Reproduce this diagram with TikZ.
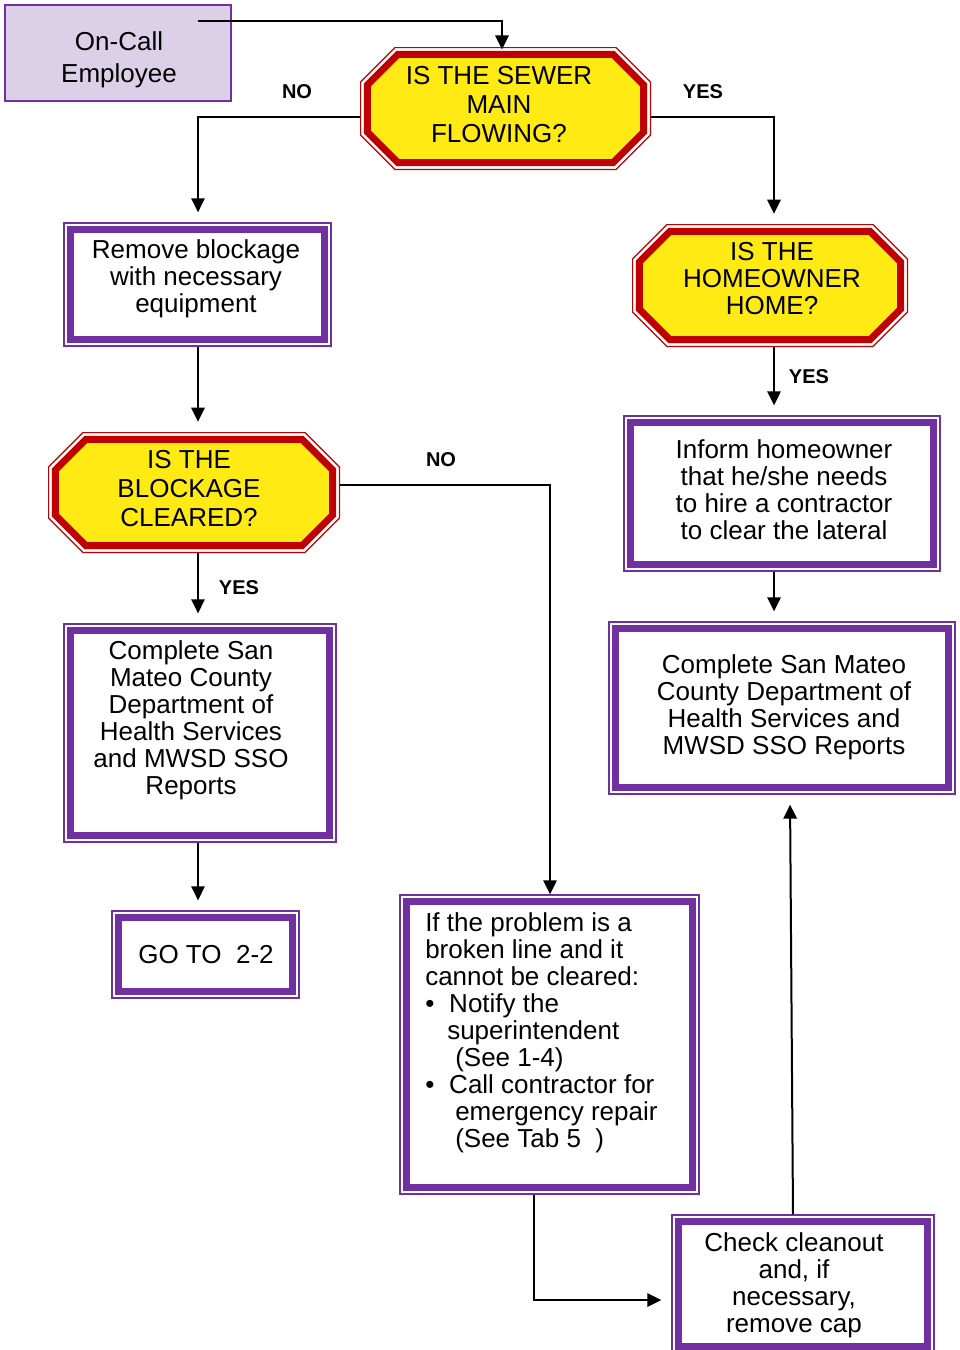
\documentclass[tikz,border=0pt]{standalone}
\usepackage{fontspec}
\setmainfont{Liberation Sans}
\usetikzlibrary{arrows.meta,calc}

\definecolor{mpurple}{RGB}{112,48,160}
\definecolor{mred}{RGB}{192,0,0}
\definecolor{myellow}{RGB}{255,234,20}
\definecolor{lav}{RGB}{220,208,232}

\tikzset{
  % octagon outline inset by #1 with corner cut #2, drawn inside a path picture
  octo/.style 2 args={insert path={
    ([xshift={#2+0.414*#1}, yshift=-#1]path picture bounding box.north west) --
    ([xshift={-#2-0.414*#1}, yshift=-#1]path picture bounding box.north east) --
    ([xshift=-#1, yshift={-#2-0.414*#1}]path picture bounding box.north east) --
    ([xshift=-#1, yshift={#2+0.414*#1}]path picture bounding box.south east) --
    ([xshift={-#2-0.414*#1}, yshift=#1]path picture bounding box.south east) --
    ([xshift={#2+0.414*#1}, yshift=#1]path picture bounding box.south west) --
    ([xshift=#1, yshift={#2+0.414*#1}]path picture bounding box.south west) --
    ([xshift=#1, yshift={-#2-0.414*#1}]path picture bounding box.north west) -- cycle}},
  decision/.style 2 args={rectangle, inner sep=0pt, minimum width=#1, minimum height=#2,
    path picture={
      \fill[white, octo={0pt}{26pt}];
      \draw[mred, line width=0.9pt, octo={0.45pt}{26pt}];
      \fill[myellow, octo={5.6pt}{26pt}];
      \draw[mred, line width=5.25pt, octo={5.6pt}{26pt}];
    }},
  box/.style 2 args={rectangle, inner sep=0pt, minimum width=#1, minimum height=#2,
    draw=mpurple, line width=1pt, fill=white,
    path picture={
      \draw[mpurple, line width=5.25pt]
        ([shift={(4.9pt,4.9pt)}]path picture bounding box.south west) rectangle
        ([shift={(-4.9pt,-4.9pt)}]path picture bounding box.north east);
    }},
  start/.style 2 args={rectangle, inner sep=0pt, minimum width=#1, minimum height=#2,
    draw=mpurple, line width=1.5pt, fill=lav},
  txt/.style={align=center, inner sep=0pt, font=\fontsize{19.5}{20.25}\selectfont},
  qtxt/.style={align=center, inner sep=0pt, font=\fontsize{19.5}{21.75}\selectfont},
  lbl/.style={inner sep=0pt, font=\fontsize{15}{18}\selectfont\bfseries},
  arr/.style={line width=1.5pt, -{Triangle[length=10.5pt,width=10pt]}},
  gap/.style={shorten >=7.5pt}
}

\begin{document}
\begin{tikzpicture}[x=0.75pt, y=-0.75pt]
\useasboundingbox (0,0) rectangle (960,1350);

% shapes
\node[start={169.5pt}{72pt}] (oncall) at (118,53) {};
\node[decision={218.25pt}{92.25pt}] (sewer) at (505.5,108.5) {};
\node[box={200.25pt}{92.25pt}] (remove) at (197.5,284.5) {};
\node[decision={219pt}{90.75pt}] (cleared) at (194,492.5) {};
\node[box={204pt}{163.5pt}] (reportsL) at (200,733) {};
\node[box={140.25pt}{65.25pt}] (goto) at (205.5,954.5) {};
\node[decision={207pt}{92.25pt}] (home) at (770,285.5) {};
\node[box={237pt}{116.25pt}] (inform) at (782,493.5) {};
\node[box={259.5pt}{129pt}] (reportsR) at (782,708) {};
\node[box={224.25pt}{224.25pt}] (broken) at (549.5,1044.5) {};
\node[box={196.5pt}{103.5pt}] (cleanout) at (803,1284) {};

% texts
\node[txt, font=\fontsize{19.5}{24}\selectfont] (t-oncall) at (119,60) {On-Call\\Employee};
\node[qtxt] (t-sewer) at (499,105) {IS THE SEWER\\MAIN\\FLOWING?};
\node[txt] (t-remove) at (196,279) {Remove blockage\\with necessary\\equipment};
\node[qtxt] (t-cleared) at (189,489) {IS THE\\BLOCKAGE\\CLEARED?};
\node[txt] (t-reportsL) at (191,720) {Complete San\\Mateo County\\Department of\\Health Services\\and MWSD SSO\\Reports};
\node[txt] (t-goto) at (206,955) {GO TO\ \ 2-2};
\node[txt] (t-home) at (772,279) {IS THE\\HOMEOWNER\\HOME?};
\node[txt] (t-inform) at (784,490) {Inform homeowner\\that he/she needs\\to hire a contractor\\to clear the lateral};
\node[txt] (t-reportsR) at (784,707) {Complete San Mateo\\County Department of\\Health Services and\\MWSD SSO Reports};
\node[txt, align=left, anchor=west] (t-broken) at (425,1032.5)
  {If the problem is a\\broken line and it\\cannot be cleared:\\
   \makebox[18pt][l]{•}Notify the\\
   \hspace*{16.5pt}superintendent\\
   \hspace*{22.5pt}(See 1-4)\\
   \makebox[18pt][l]{•}Call contractor for\\
   \hspace*{22.5pt}emergency repair\\
   \hspace*{22.5pt}(See Tab 5\ \ )};
\node[txt] (t-cleanout) at (794,1285) {Check cleanout\\and, if\\necessary,\\remove cap};

% branch labels
\node[lbl] (no1) at (297,92) {NO};
\node[lbl] (yes1) at (703,92) {YES};
\node[lbl] (yes2) at (239,588) {YES};
\node[lbl] (no2) at (441,460) {NO};
\node[lbl] (yes3) at (809,377) {YES};

% connector anchors
\coordinate (from-oncall) at (198,21);
\coordinate (topcol) at (502,0);
\coordinate (sewerrow) at (0,117);
\coordinate (colL) at (198,0);
\coordinate (colR) at (774,0);
\coordinate (no2row) at (550,485);
\coordinate (joint) at (534,1300);
\coordinate (upL) at (790,0);
\coordinate (upS) at (793,0);

% connectors
\draw[arr, shorten >=-2pt] (from-oncall) -| (sewer.north -| topcol);
\draw[arr, gap] (sewer.west |- sewerrow) -| (remove.north -| colL);
\draw[arr, gap] (sewer.east |- sewerrow) -| (home.north -| colR);
\draw[arr, gap] (remove.south -| colL) -- (cleared.north -| colL);
\draw[arr, gap] (cleared.south -| colL) -- (reportsL.north -| colL);
\draw[arr, gap] (reportsL.south -| colL) -- (goto.north -| colL);
\draw[arr] (cleared.east |- no2row) -| (broken.north -| no2row);
\draw[arr, gap] (home.south -| colR) -- (inform.north -| colR);
\draw[arr, gap] (inform.south -| colR) -- (reportsR.north -| colR);
\draw[arr, gap] (broken.south -| joint) |- (cleanout.west |- joint);
\draw[arr, gap] (cleanout.north -| upS) -- (reportsR.south -| upL);
\end{tikzpicture}
\end{document}
